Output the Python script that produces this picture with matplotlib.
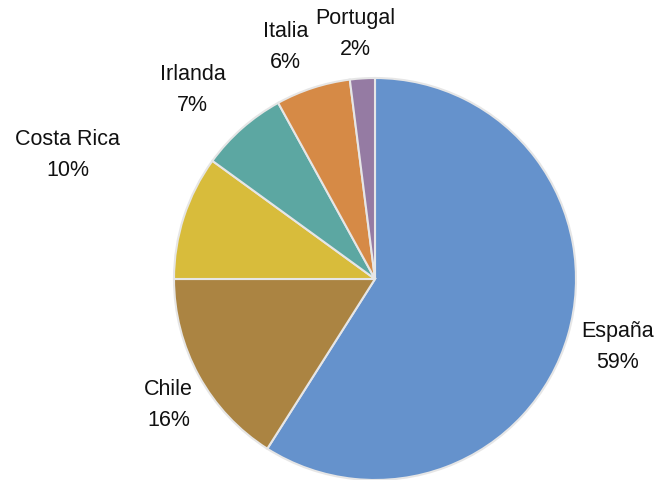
import numpy as np
import matplotlib
matplotlib.use("Agg")
import matplotlib.pyplot as plt

# %%
paises = ["España", "Chile", "Costa Rica", "Irlanda", "Italia", "Portugal"]
porcentaje = [59, 16, 10, 7, 6, 2]
colores = ["#6592cc", "#ab8442", "#d8bc3b", "#5ca7a2", "#d68a46", "#957ba3"]

# label placement (like Excel "best fit"): radial distance and angle nudge
dist_etiqueta = [1.25, 1.20, 1.65, 1.31, 1.24, 1.23]
giro_etiqueta = [0.8, 2.3, -4.2, 2.4, 3.0, 1.0]

plt.rcParams["font.family"] = ["Liberation Sans", "DejaVu Sans"]

# %%
fig = plt.figure(figsize=(6.58, 4.81), dpi=100)
ax = fig.add_axes([0, 0, 1, 1])

wedges, _ = ax.pie(porcentaje, colors=colores, startangle=90, counterclock=False,
                   radius=1.0, center=(0, 0),
                   wedgeprops=dict(edgecolor="#e6e6e6", linewidth=1.5))

for w, nombre, p, d, g in zip(wedges, paises, porcentaje, dist_etiqueta, giro_etiqueta):
    ang = np.deg2rad((w.theta1 + w.theta2) / 2 + g)
    ax.text(d * np.cos(ang), d * np.sin(ang), f"{nombre}\n{p}%",
            ha="center", va="center", fontsize=15.5, linespacing=1.62,
            color="#111111")

# pie centre at pixel (375, 280), radius 201 px
ax.set_xlim(-375 / 201, (658 - 375) / 201)
ax.set_ylim(-(481 - 280) / 201, 280 / 201)
ax.set_aspect("auto")
ax.axis("off")

fig.savefig("out.png", dpi=100)
